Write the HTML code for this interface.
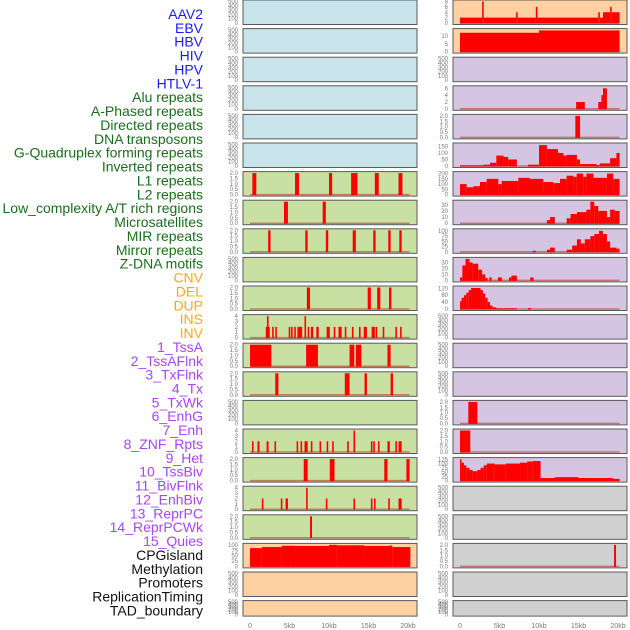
<!DOCTYPE html>
<html><head><meta charset="utf-8">
<style>
html,body{margin:0;padding:0;background:#fff;}
svg{display:block;font-family:"Liberation Sans",sans-serif;}
</style></head>
<body>
<svg id="chart" width="630" height="630" viewBox="0 0 630 630" xmlns="http://www.w3.org/2000/svg"></svg>
<script>
const rowLabels = ["AAV2","EBV","HBV","HIV","HPV","HTLV-1","Alu repeats","A-Phased repeats","Directed repeats","DNA transposons","G-Quadruplex forming repeats","Inverted repeats","L1 repeats","L2 repeats","Low_complexity A/T rich regions","Microsatellites","MIR repeats","Mirror repeats","Z-DNA motifs","CNV","DEL","DUP","INS","INV","1_TssA","2_TssAFlnk","3_TxFlnk","4_Tx","5_TxWk","6_EnhG","7_Enh","8_ZNF_Rpts","9_Het","10_TssBiv","11_BivFlnk","12_EnhBiv","13_ReprPC","14_ReprPCWk","15_Quies","CPGisland","Methylation","Promoters","ReplicationTiming","TAD_boundary"];
const labelGroups = [6,13,5,15,5];
const groupColors = ["#1a1aff","#1a6e1a","#ffa520","#a845f5","#111111"];
const xTickValues = [0,5,10,15,20];
const xTickLabels = ["0","5kb","10kb","15kb","20kb"];
const leftBg = ["#c8e3ea","#c8e3ea","#c8e3ea","#c8e3ea","#c8e3ea","#c8e3ea","#c8e0a2","#c8e0a2","#c8e0a2","#c8e0a2","#c8e0a2","#c8e0a2","#c8e0a2","#c8e0a2","#c8e0a2","#c8e0a2","#c8e0a2","#c8e0a2","#c8e0a2","#ffd0a0","#ffd0a0","#ffd0a0"];
const rightBg = ["#ffd0a0","#ffd0a0","#d6c5e2","#d6c5e2","#d6c5e2","#d6c5e2","#d6c5e2","#d6c5e2","#d6c5e2","#d6c5e2","#d6c5e2","#d6c5e2","#d6c5e2","#d6c5e2","#d6c5e2","#d6c5e2","#d6c5e2","#d0d0d0","#d0d0d0","#d0d0d0","#d0d0d0","#d0d0d0"];
const T500 = [0,100,200,300,400,500], T2 = [0,0.5,1,1.5,2], T4 = [0,1,2,3,4];
const leftTicks = [T500,T500,T500,T500,T500,T500,T2,T2,T2,T500,T2,T4,T2,T2,T500,T4,T2,T4,T2,[0,25,50,75,100],T500,T500];
const leftMax = [500,500,500,500,500,500,2,2,2,500,2,4,2,2,500,4,2,4,2,100,500,500];
const rightTicks = [[0,2,4,6,8],[0,5,10],T500,[0,2,4,6],T2,[0,50,100,150],[0,50,100,150,200],[0,10,20,30],[0,25,50,75,100],[0,10,20,30],[0,40,80,120],T500,T500,T500,T2,T2,[0,25,50,75,100,125],T500,T500,T2,T500,T500];
const rightMax = [8,13.7,500,6.3,2,165,205,35,103,36,125,500,500,500,2,2,126,500,500,2,500,500];
// left-panel features: [startKb, endKb, value]
const leftSeries = [[],[],[],[],[],[],
 [[0.3,0.8,2],[5.7,6.2,2],[10.0,10.4,2],[12.8,13.6,2],[15.8,16.3,2],[18.8,19.3,2]],
 [[4.3,4.8,2],[9.2,9.6,2]],
 [[2.3,2.6,2],[7.0,7.3,2],[9.6,9.9,2],[13.0,13.4,2],[15.6,15.9,2],[17.5,17.8,2],[18.9,19.2,2]],
 [],
 [[7.2,7.6,2],[14.9,15.3,2],[16.1,16.5,2],[17.6,17.9,2]],
 [[2.0,2.5,2],[2.15,2.35,4],[2.8,3.0,2],[3.2,3.4,2],[4.9,5.1,2],[5.2,5.4,2],[5.6,5.8,2],[6.0,6.2,2],[6.2,6.4,2],[6.4,6.6,2],[6.9,7.1,4],[7.3,7.5,2],[7.7,8.0,2],[8.4,8.7,2],[9.7,10.1,2],[10.6,10.8,2],[11.2,11.6,2],[12.0,12.2,2],[12.9,13.1,2],[13.8,14.0,2],[14.4,14.8,2],[15.4,15.8,2],[15.9,16.1,2],[16.8,17.0,2],[18.4,18.6,2],[19.0,19.2,2]],
 [[0,2.7,2],[7.1,8.6,2],[12.6,13.2,2],[13.4,14.1,2],[17.4,17.8,2]],
 [[3.2,3.6,2],[12.0,12.6,2],[14.5,14.8,2],[17.8,18.1,2]],
 [],
 [[0.25,0.45,2],[0.95,1.2,2],[2.1,2.35,2],[3.1,3.3,2],[5.9,6.1,2],[6.4,6.6,2],[6.9,7.3,2],[7.7,7.9,2],[8.8,9.0,2],[9.7,9.9,2],[10.4,10.6,2],[12.3,12.5,2],[13.1,13.3,4],[13.1,13.3,2],[15.3,15.5,2],[15.6,15.8,2],[16.2,16.4,2],[17.4,17.7,2],[18.4,18.6,2],[18.8,19.2,2]],
 [[6.8,7.3,2],[10.1,10.7,2],[17.0,17.4,2],[19.8,20.2,2]],
 [[1.5,1.7,2],[3.9,4.1,2],[4.5,4.8,2],[7.1,7.3,4],[9.6,9.8,2],[13.1,13.3,2],[15.3,15.5,2],[15.7,15.9,2],[17.5,17.7,2],[18.8,19.2,2]],
 [[7.6,7.85,2]],
 [[0,1.5,85],[1.5,4,90],[4,5.7,96],[5.7,10,95],[10,11,100],[11,14.5,98],[14.5,17.6,95],[17.6,18,97],[18,20.3,90]],
 [],[]];
// right-panel features: [startKb, endKb, value]
const rightSeries = [
 [[0,2.8,2],[2.8,3.0,8],[3.0,7.1,2],[7.1,7.3,4],[7.3,9.6,2],[9.6,9.8,6],[9.8,17.5,2],[17.5,17.7,4],[17.7,18.1,2],[18.1,19.0,4],[19.0,19.2,6],[19.2,20.2,4]],
 [[0,10,12],[10,20.2,13.5]],
 [],
 [[14.7,15.8,2],[17.5,17.9,2],[17.9,18.1,4],[18.1,18.6,6]],
 [[14.6,15.2,2]],
 [[0,2.95,5],[2.95,3.8,10],[3.8,4.6,25],[4.6,5.5,80],[5.5,6.1,70],[6.1,7.2,50],[8.6,10.0,10],[10.0,11.0,160],[11.0,12.4,130],[12.4,13.1,100],[13.1,13.5,80],[13.5,14.8,85],[14.8,15.2,50],[15.2,17.3,15],[17.3,17.7,8],[17.7,19.0,20],[19.0,19.8,60],[19.8,20.2,100]],
 [[0,0.84,100],[0.84,1.69,70],[1.69,2.53,80],[2.53,3.38,120],[3.38,4.85,150],[4.85,5.27,100],[5.27,7.38,130],[7.38,8.86,160],[8.86,10.55,150],[10.55,11.81,120],[11.81,12.66,110],[12.66,13.5,150],[13.5,14.35,180],[14.35,14.77,170],[14.77,15.6,200],[15.6,16.0,170],[16.0,16.9,200],[16.9,18.6,160],[18.6,19.4,200],[19.4,20.2,150]],
 [[11.0,11.4,5],[11.4,12.0,10],[13.5,14.0,8],[14.0,14.8,15],[14.8,16.0,18],[16.0,16.5,22],[16.5,17.0,35],[17.0,17.5,28],[17.5,18.6,20],[18.6,19.0,10],[19.0,19.6,22],[19.6,20.2,20]],
 [[9.2,9.6,5],[11.0,11.4,10],[11.4,12.0,20],[13.5,14.2,10],[14.2,14.8,30],[14.8,15.3,60],[15.3,15.8,40],[15.8,16.5,60],[16.5,17.0,75],[17.0,17.6,85],[17.6,18.1,100],[18.1,18.6,85],[18.6,19.0,50],[19.0,19.8,20],[19.8,20.2,15]],
 [[0,0.3,5],[0.3,0.7,25],[0.7,1.2,36],[1.2,1.6,30],[1.6,2.3,28],[2.3,2.8,18],[2.8,3.2,10],[3.2,3.5,4],[3.7,4.0,5],[4.8,5.3,5],[6.2,6.5,5],[6.5,7.2,8],[8.9,9.3,5]],
 [[0,0.2,45],[0.2,0.5,65],[0.5,0.8,80],[0.8,1.1,95],[1.1,1.4,110],[1.4,2.6,122],[2.6,2.9,110],[2.9,3.2,90],[3.2,3.5,65],[3.5,3.8,40],[3.8,4.1,20],[4.1,4.6,10],[4.6,7.2,4],[8.6,9.0,6]],
 [],[],[],
 [[1.05,2.2,2]],
 [[0,1.3,2]],
 [[0,0.2,125],[0.2,0.5,105],[0.5,0.8,90],[0.8,1.2,75],[1.2,1.6,62],[1.6,2.2,55],[2.2,2.6,62],[2.6,3.0,75],[3.0,3.4,90],[3.4,4.4,100],[4.4,5.8,95],[5.8,7.6,100],[7.6,8.5,105],[8.5,9.2,112],[9.2,10.2,115],[10.2,12,15],[12,15,20],[15,19.4,15],[19.4,20.2,10]],
 [],[],
 [[19.5,19.75,2]],
 [],[]];

const NS = "http://www.w3.org/2000/svg";
const svg = document.getElementById('chart');
function mk(tag, attrs, parent){const e=document.createElementNS(NS,tag);for(const k in attrs)e.setAttribute(k,attrs[k]);(parent||svg).appendChild(e);return e;}

// labels
let gi=0, gcount=0;
rowLabels.forEach((lab,i)=>{
  while(gcount>=labelGroups[gi]){gi++;gcount=0;}
  gcount++;
  const t=mk('text',{x:203,y:19+i*13.87,'text-anchor':'end','font-size':14,fill:groupColors[gi]});
  t.textContent=lab;
  
  
});

const panels=[{x0:243,x1:417,zero:250,bg:leftBg,ticks:leftTicks,max:leftMax,series:leftSeries,side:'left'},
              {x0:453,x1:627,zero:460,bg:rightBg,ticks:rightTicks,max:rightMax,series:rightSeries,side:'right'}];
const kbPx=7.9;
panels.forEach(P=>{
  const xs=kb=>P.zero+kb*kbPx;
  for(let r=0;r<22;r++){
    const top=r*28.6, h=(r===21?15.5:24.5);
    const g=mk('g',{});
    
    
    mk('rect',{x:P.x0,y:top,width:P.x1-P.x0,height:h,fill:P.bg[r],stroke:'#5a5a5a','stroke-width':1},g);
    const maxv=P.max[r];
    const ys=v=>top+h-1.5-(v/maxv)*(h-3);
    // ticks
    P.ticks[r].forEach(tv=>{
      const t=mk('text',{x:P.x0-5,y:ys(tv)+2,'text-anchor':'end','font-size':6,fill:'#777'},g);
      t.textContent=(P.ticks[r]===T2)?tv.toFixed(1):String(tv);
      
      
    });
    const data=P.series[r];
    if(data.length){
      const base=mk('line',{x1:xs(0),x2:xs(20.2),y1:ys(0),y2:ys(0),stroke:'#b03020','stroke-opacity':0.55,'stroke-width':1.5},g);
      
      
      data.forEach(d=>{
        const y=ys(d[2]);
        const b=mk('rect',{x:xs(d[0]),y:y,width:Math.max(0.8,xs(d[1])-xs(d[0])),height:ys(0)-y+0.5,fill:'#ff0000'},g);
        
        
      });
    }
  }
  xTickValues.forEach((v,i)=>{
    const t=mk('text',{x:xs(v),y:628,'text-anchor':'middle','font-size':7,fill:'#777'});
    t.textContent=xTickLabels[i];
    
    
  });
});
</script>
</body></html>
